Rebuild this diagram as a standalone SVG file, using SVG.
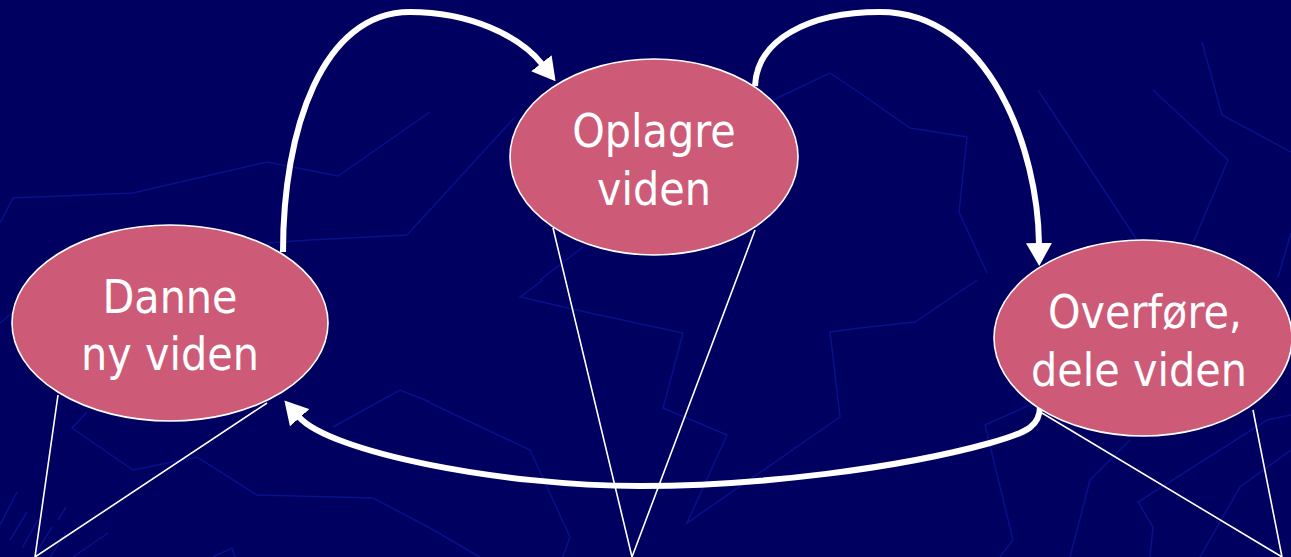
<svg xmlns="http://www.w3.org/2000/svg" width="1291" height="557" viewBox="0 0 1291 557">
<style>
.bg{fill:none;stroke:#08108a;stroke-width:1.5;stroke-linejoin:miter}
.node ellipse{fill:#cd5b78;stroke:#ffffff;stroke-width:1.6}
.node text{fill:#ffffff;font-family:"DejaVu Sans Condensed","DejaVu Sans",sans-serif;font-stretch:condensed;font-size:46px;text-anchor:middle}
.arrow{fill:none;stroke:#ffffff;stroke-width:6;marker-end:url(#head)}
.thin{fill:none;stroke:#ffffff;stroke-width:1.6}
</style>
<defs>
<marker id="head" markerUnits="userSpaceOnUse" viewBox="0 0 23 26" markerWidth="23" markerHeight="26" refX="1" refY="13" orient="auto">
<path d="M0,0 L23,13 L0,26 Z" fill="#ffffff"/>
</marker>
</defs>
<rect width="1291" height="557" fill="#000060"/>
<g id="background">
<polyline class="bg" points="0,223 13,198 133,193 267,162 338,176 430,112"/>
<polyline class="bg" points="267,243 310,240 407,235 430,210 515,117"/>
<polyline class="bg" points="773,100 830,73 860,93 910,128 967,137 959,212 987,273"/>
<polyline class="bg" points="540,280 583,247"/>
<polyline class="bg" points="1038,90 1137,240"/>
<polyline class="bg" points="1153,90 1228,160 1193,243"/>
<polyline class="bg" points="1202,42 1222,115 1291,152"/>
<polyline class="bg" points="1291,233 1278,277"/>
<polyline class="bg" points="0,323 12,313"/>
<polyline class="bg" points="87,412 72,428 133,470 197,457 257,495 373,498 430,528 480,557"/>
<polyline class="bg" points="333,427 400,390 430,402"/>
<polyline class="bg" points="543,280 520,297 590,313 683,333 663,408 727,435 687,523 840,417 830,332 860,328 915,322 977,280"/>
<polyline class="bg" points="430,403 530,450 570,537 563,557"/>
<polyline class="bg" points="1030,405 985,425 1013,540 1000,557"/>
<polyline class="bg" points="1070,557 1090,480 1130,440"/>
<polyline class="bg" points="1291,415 1267,420 1138,502 1153,527 1150,557"/>
<polyline class="bg" points="1200,557 1240,487 1291,450"/>
<polyline class="bg" points="213,557 232,548 235,557"/>
<polyline class="bg" points="73,557 108,533"/>
<path class="bg" d="M0,525 L17,492 M10,540 L27,512 M22,548 L38,520 M35,555 L52,527 M50,557 L66,533 M58,520 L66,507"/>
</g>
<g id="connectors">
<path class="thin" d="M58,395 L35,557 L267,403"/>
<path class="thin" d="M553,228 L632,557 L755,230"/>
<path class="thin" d="M1042,413 L1282,557 L1253,410"/>
<path class="arrow" d="M283,252 C283,130 322,12 410,12 C470,12 520,36 542,64"/>
<path class="arrow" d="M755,86 C757,40 808,12 880,12 C990,12 1038,150 1039,244"/>
<path class="arrow" d="M1040,406 C1040,425 1030,432 990,443 C900,468 760,486 640,486 C500,486 330,452 299,417"/>
</g>
<g id="node-danne" class="node">
<ellipse cx="170" cy="323" rx="158" ry="98"/>
<text x="170" y="313">Danne</text>
<text x="170" y="370">ny viden</text>
</g>
<g id="node-oplagre" class="node">
<ellipse cx="654" cy="157" rx="144" ry="98"/>
<text x="654" y="147">Oplagre</text>
<text x="654" y="205">viden</text>
</g>
<g id="node-overfore" class="node">
<ellipse cx="1143" cy="338" rx="149" ry="98"/>
<text x="1145" y="328">Overføre,</text>
<text x="1139" y="386">dele viden</text>
</g>
</svg>
